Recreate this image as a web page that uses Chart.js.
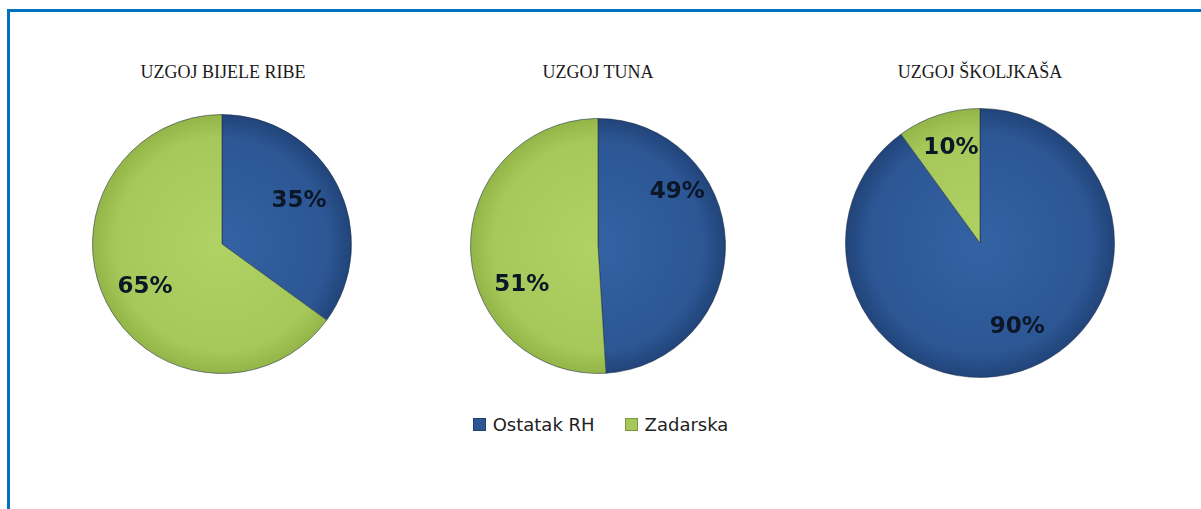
<!DOCTYPE html>
<html>
<head>
<meta charset="utf-8">
<script src="https://cdn.jsdelivr.net/npm/chart.js@4.4.1/dist/chart.umd.min.js"></script>
<style>
  html, body { margin: 0; padding: 0; background: #fff; }
  body { width: 1201px; height: 509px; position: relative; overflow: hidden; }
  #frameTop { position: absolute; left: 7px; top: 9px; width: 1194px; height: 3px; background: #0070C0; }
  #frameLeft { position: absolute; left: 7px; top: 9px; width: 3px; height: 500px; background: #0070C0; }
  .box { position: absolute; }
  .title { position: absolute; font-family: "Liberation Serif", serif; font-size: 18px; color: #1a1a1a; text-align: center; width: 300px; line-height: 20px; }
  #legend { position: absolute; top: 414px; left: 0; width: 1201px; text-align: center; font-family: "DejaVu Sans", sans-serif; font-size: 18px; color: #222; }
  #legend span.item { display: inline-block; margin: 0 15px; }
  #legend span.sw { display: inline-block; width: 11px; height: 11px; margin-right: 7px; vertical-align: 0px; border: 1px solid rgba(0,0,0,0.25); }
</style>
</head>
<body>
<div id="frameTop"></div>
<div id="frameLeft"></div>
<div id="legend"></div>
<script>
// ---- data ----
const categories = ['Ostatak RH', 'Zadarska'];
const chartTitles = ['UZGOJ BIJELE RIBE', 'UZGOJ TUNA', 'UZGOJ ŠKOLJKAŠA'];
const bijeleRibe = [35, 65];
const tuna = [49, 51];
const skoljkasi = [90, 10];

// ---- styling / layout ----
const sliceColors = [
  { inner: '#3462a3', outer: '#214479', flat: '#2c5694' },
  { inner: '#b0d164', outer: '#93b548', flat: '#a6c85a' }
];
const layouts = [
  { left: 92, top: 114, size: 260, titleX: 223, labelPos: [[61, 0.68], [241, 0.68]] },
  { left: 470, top: 118, size: 256, titleX: 598, labelPos: [[56, 0.75], [243, 0.67]] },
  { left: 845, top: 108, size: 270, titleX: 980, labelPos: [[156, 0.68], [343, 0.74]] }
];
const seriesList = [bijeleRibe, tuna, skoljkasi];

const pieLabels = {
  id: 'pieLabels',
  afterDatasetsDraw(chart, args, opts) {
    const ctx = chart.ctx;
    const meta = chart.getDatasetMeta(0);
    const data = chart.data.datasets[0].data;
    ctx.save();
    ctx.font = 'bold 23px "DejaVu Sans", sans-serif';
    ctx.fillStyle = '#0b1626';
    ctx.textAlign = 'center';
    ctx.textBaseline = 'middle';
    meta.data.forEach((arc, i) => {
      const p = opts.pos[i];
      const a = (p[0] - 90) * Math.PI / 180;
      const d = p[1] * arc.outerRadius;
      ctx.fillText(data[i] + '%', arc.x + d * Math.cos(a), arc.y + d * Math.sin(a));
    });
    ctx.restore();
  }
};

function sliceFill(context) {
  const idx = context.dataIndex;
  const chart = context.chart;
  const area = chart.chartArea;
  if (!area || idx === undefined) return sliceColors[idx || 0].flat;
  const cx = (area.left + area.right) / 2, cy = (area.top + area.bottom) / 2;
  const r = Math.min(area.right - area.left, area.bottom - area.top) / 2;
  const g = chart.ctx.createRadialGradient(cx, cy, 0, cx, cy, r);
  g.addColorStop(0, sliceColors[idx].inner);
  g.addColorStop(0.82, sliceColors[idx].flat);
  g.addColorStop(1, sliceColors[idx].outer);
  return g;
}

layouts.forEach((L, k) => {
  const t = document.createElement('div');
  t.className = 'title';
  t.style.left = (L.titleX - 150) + 'px';
  t.style.top = '62px';
  t.textContent = chartTitles[k];
  document.body.appendChild(t);

  const box = document.createElement('div');
  box.className = 'box';
  box.style.left = L.left + 'px';
  box.style.top = L.top + 'px';
  box.style.width = L.size + 'px';
  box.style.height = L.size + 'px';
  const cv = document.createElement('canvas');
  box.appendChild(cv);
  document.body.appendChild(box);

  new Chart(cv, {
    type: 'pie',
    data: {
      labels: categories,
      datasets: [{
        data: seriesList[k],
        backgroundColor: sliceFill,
        borderColor: 'rgba(30,45,70,0.55)',
        borderWidth: 1
      }]
    },
    options: {
      responsive: true,
      maintainAspectRatio: false,
      animation: false,
      layout: { padding: 0 },
      plugins: {
        legend: { display: false },
        tooltip: { enabled: false },
        pieLabels: { pos: L.labelPos }
      }
    },
    plugins: [pieLabels]
  });
});

// legend
const legend = document.getElementById('legend');
categories.forEach((c, i) => {
  const item = document.createElement('span');
  item.className = 'item';
  const sw = document.createElement('span');
  sw.className = 'sw';
  sw.style.background = sliceColors[i].flat;
  item.appendChild(sw);
  item.appendChild(document.createTextNode(c));
  legend.appendChild(item);
});
</script>
</body>
</html>
